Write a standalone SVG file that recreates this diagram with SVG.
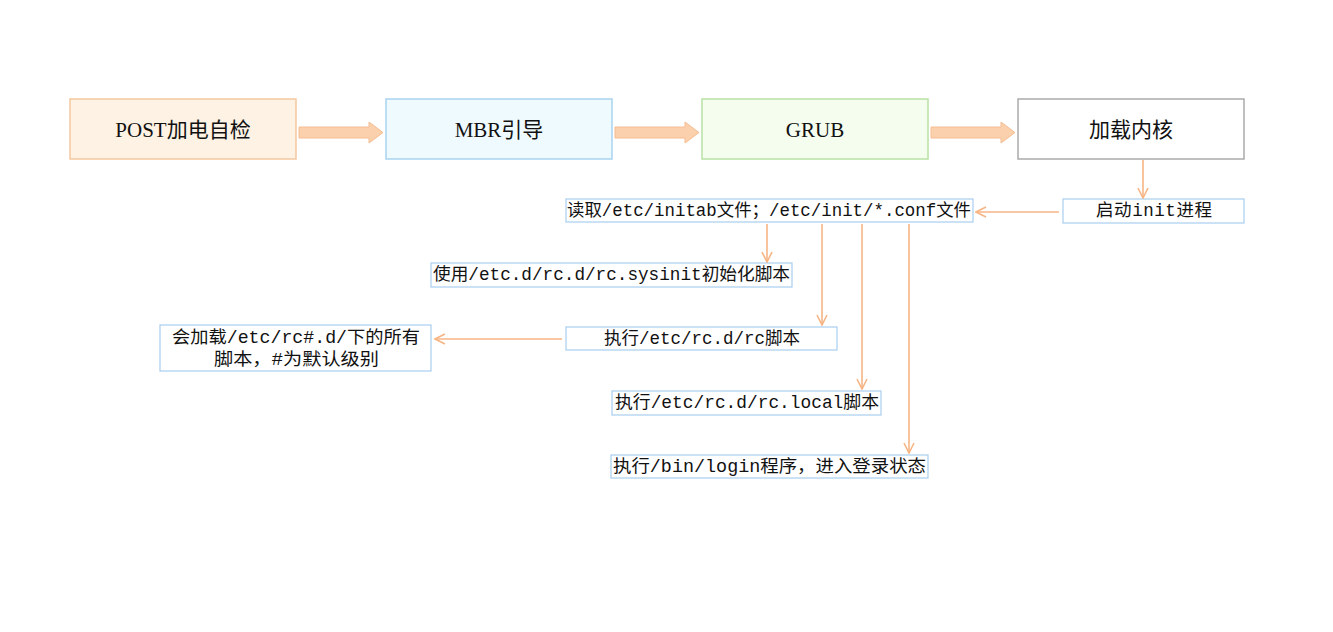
<svg xmlns="http://www.w3.org/2000/svg" width="1333" height="632" viewBox="0 0 1333 632">
<style>
.big{font-family:"Liberation Serif","Noto Sans CJK SC",serif;font-size:21px;fill:#111;text-anchor:middle;dominant-baseline:central}
.sm{font-family:"Liberation Mono","Noto Sans CJK SC",monospace;font-size:17.5px;fill:#111;dominant-baseline:central}
.sbox{fill:#fff;stroke:#a9cdee;stroke-width:1.2}
.blk{fill:#fbd0ad;stroke:#f6bc92;stroke-width:1}
.ln{fill:none;stroke:#f7b585;stroke-width:1.6}
</style>
<defs>
<marker id="ah" viewBox="0 0 12 12" refX="11" refY="6" markerWidth="12" markerHeight="12" markerUnits="userSpaceOnUse" orient="auto">
<polyline points="1,1 11,6 1,11" fill="none" stroke="#f7b585" stroke-width="1.6"/>
</marker>
</defs>
<rect width="1333" height="632" fill="#fff"/>
<g id="post"><rect x="70" y="99" width="226" height="60" fill="#fdf2e4" stroke="#f5c7a0" stroke-width="1.5"/><text class="big" x="183" y="130">POST加电自检</text></g>
<g id="mbr"><rect x="386" y="99" width="226" height="60" fill="#effaff" stroke="#a9d3ef" stroke-width="1.5"/><text class="big" x="499" y="130">MBR引导</text></g>
<g id="grub"><rect x="702" y="99" width="226" height="60" fill="#f4fdee" stroke="#b9e2a5" stroke-width="1.5"/><text class="big" x="815" y="130">GRUB</text></g>
<g id="kernel"><rect x="1018" y="99" width="226" height="60" fill="#fff" stroke="#aaaaaa" stroke-width="1.5"/><text class="big" x="1131" y="130">加载内核</text></g>
<g id="initproc"><rect class="sbox" x="1063" y="199" width="181" height="24"/><text class="sm" x="1096" y="211" textLength="116">启动init进程</text></g>
<g id="read"><rect class="sbox" x="566" y="199" width="407" height="23"/><text class="sm" x="567" y="211" textLength="404" lengthAdjust="spacingAndGlyphs">读取/etc/initab文件；/etc/init/*.conf文件</text></g>
<g id="sysinit"><rect class="sbox" x="431" y="263" width="361" height="24"/><text class="sm" x="433" y="275" textLength="357" lengthAdjust="spacingAndGlyphs">使用/etc.d/rc.d/rc.sysinit初始化脚本</text></g>
<g id="rc"><rect class="sbox" x="566" y="327" width="271" height="23"/><text class="sm" x="604" y="339" textLength="196" lengthAdjust="spacingAndGlyphs">执行/etc/rc.d/rc脚本</text></g>
<g id="rcd"><rect class="sbox" x="160" y="325" width="271" height="46"/><text class="sm" x="172" y="338" textLength="248" lengthAdjust="spacingAndGlyphs">会加载/etc/rc#.d/下的所有</text><text class="sm" x="214" y="360" textLength="165" lengthAdjust="spacingAndGlyphs">脚本，#为默认级别</text></g>
<g id="rclocal"><rect class="sbox" x="612" y="391" width="269" height="24"/><text class="sm" x="615" y="403" textLength="264" lengthAdjust="spacingAndGlyphs">执行/etc/rc.d/rc.local脚本</text></g>
<g id="login"><rect class="sbox" x="611" y="455" width="317" height="23"/><text class="sm" x="613" y="467" textLength="313" lengthAdjust="spacingAndGlyphs">执行/bin/login程序，进入登录状态</text></g>
<g id="connectors">
<polygon class="blk" points="299,127 369,127 369,122 383,132.5 369,143 369,138 299,138"/>
<polygon class="blk" points="615,127 685,127 685,122 699,132.5 685,143 685,138 615,138"/>
<polygon class="blk" points="931,127 1001,127 1001,122 1015,132.5 1001,143 1001,138 931,138"/>
<line class="ln" x1="1143" y1="160" x2="1143" y2="198" marker-end="url(#ah)"/>
<line class="ln" x1="1059" y1="212" x2="976" y2="212" marker-end="url(#ah)"/>
<line class="ln" x1="767" y1="224" x2="767" y2="262" marker-end="url(#ah)"/>
<line class="ln" x1="822" y1="224" x2="822" y2="325" marker-end="url(#ah)"/>
<line class="ln" x1="862" y1="224" x2="862" y2="389" marker-end="url(#ah)"/>
<line class="ln" x1="909" y1="224" x2="909" y2="453" marker-end="url(#ah)"/>
<line class="ln" x1="562" y1="339" x2="435" y2="339" marker-end="url(#ah)"/>
</g>
</svg>
